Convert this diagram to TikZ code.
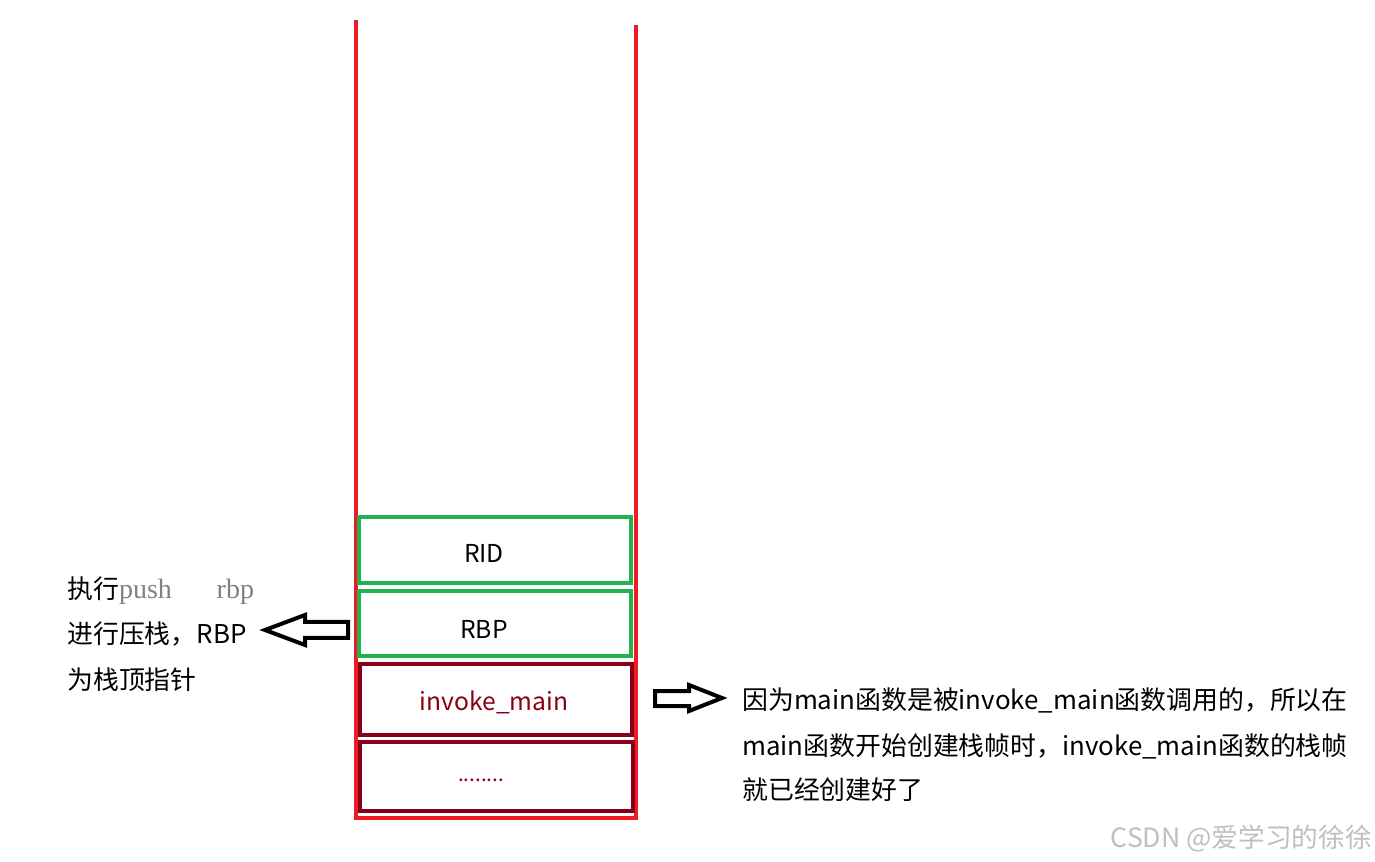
\documentclass[tikz,border=0pt]{standalone}
\usepackage{fontspec}
\setmainfont{Noto Sans CJK SC}
\newfontfamily\serifpart{Liberation Serif}
\definecolor{stackred}{HTML}{ED1C24}
\definecolor{boxgreen}{HTML}{22B14C}
\definecolor{darkred}{HTML}{880015}
\begin{document}
\begin{tikzpicture}[x=0.75pt,y=-0.75pt,
  greenbox/.style={draw=boxgreen,line width=3pt},
  redbox/.style={draw=darkred,line width=3.6pt},
  bigarrow/.style={draw=black,line width=3pt,line join=miter},
  lbl/.style={font=\fontsize{18.5pt}{20pt}\selectfont,inner sep=0pt},
  txt/.style={font=\fontsize{19.4pt}{33pt}\selectfont,inner sep=0pt,anchor=west,align=left}]
\useasboundingbox (0,0) rectangle (1375,862);
% stack outline
\draw[stackred,line width=3pt] (356,20) -- (356,818) -- (636,818) -- (636,25);
% boxes
\draw[greenbox] (359,517) rectangle (631,583);
\draw[greenbox] (359,591) rectangle (631,656);
\draw[redbox] (360,664) rectangle (632,735);
\draw[redbox] (360,742) rectangle (633,811);
\node[lbl] (rid) at (484,553) {RID};
\node[lbl] (rbp) at (484,629) {RBP};
\node[lbl,text=darkred] (inv) at (494,702) {invoke\_main};
\node[font=\fontsize{15.5pt}{16pt}\selectfont,text=darkred] (dots) at (481,780) {........};
% left arrow
\draw[bigarrow] (265,630) -- (305,615) -- (305,622) -- (348,622) -- (348,638) -- (305,638) -- (305,645) -- cycle;
% right arrow
\draw[bigarrow] (722,698) -- (689,685) -- (689,691) -- (655,691) -- (655,706) -- (689,706) -- (689,711) -- cycle;
% left text
\node[txt] (lt1) at (67,591) {执行{\serifpart\fontsize{21pt}{24pt}\selectfont\color{gray}push\hspace{1.6em}rbp}};
\node[txt] (lt2) at (67,634) {进行压栈，RBP};
\node[txt] (lt3) at (67,680) {为栈顶指针};
% right text
\node[txt] (rt1) at (742,700) {因为main函数是被invoke\_main函数调用的，所以在};
\node[txt] (rt2) at (742,746) {main函数开始创建栈帧时，invoke\_main函数的栈帧};
\node[txt] (rt3) at (742,790) {就已经创建好了};
% watermark
\node[font=\fontsize{20pt}{22pt}\selectfont,text=black!25,anchor=east,inner sep=0pt] (wm) at (1372,838) {CSDN @爱学习的徐徐};
\end{tikzpicture}
\end{document}
